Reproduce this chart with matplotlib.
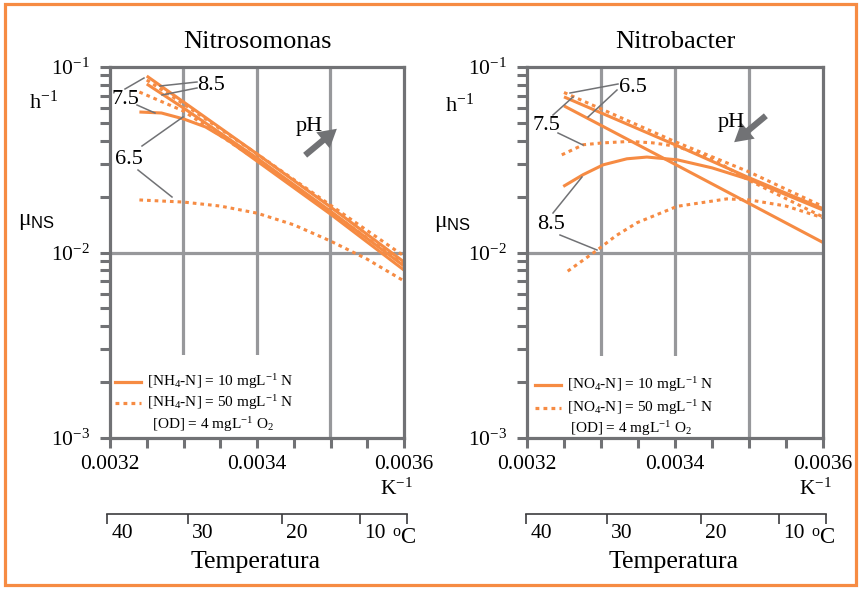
import matplotlib
matplotlib.use("Agg")
import numpy as np
import matplotlib.pyplot as plt
from matplotlib.lines import Line2D
from matplotlib.patches import Rectangle, FancyArrowPatch
from matplotlib.ticker import LogLocator, LogFormatterMathtext, NullFormatter

plt.rcParams['font.family'] = ['Liberation Serif', 'DejaVu Serif']
plt.rcParams['mathtext.fontset'] = 'custom'
plt.rcParams['mathtext.rm'] = 'Liberation Serif'
plt.rcParams['mathtext.it'] = 'Liberation Serif:italic'
plt.rcParams['mathtext.sf'] = 'Liberation Sans'

# ---------------- data (x in K^-1, mu in h^-1) ----------------
titles = ["Nitrosomonas", "Nitrobacter"]
xtick_vals = [0.0032, 0.0034, 0.0036]
xtick_labels = ["0.0032", "0.0034", "0.0036"]
temp_labels = ["40", "30", "20", "10"]
temp_pos = [0.0032, 0.003308, 0.003433, 0.003537]   # K^-1 positions drawn on the °C scale

# Nitrosomonas
ns_s85_x = [0.00325, 0.0033, 0.0034, 0.0035, 0.0036]
ns_s85 = [0.0894, 0.0648, 0.0340, 0.0176, 0.00889]
ns_d85_x = [0.00325, 0.0033, 0.0034, 0.0035, 0.0036]
ns_d85 = [0.0851, 0.0632, 0.0340, 0.0180, 0.00957]
ns_s75_x = [0.00325, 0.0033, 0.0034, 0.0035, 0.0036]
ns_s75 = [0.0810, 0.0601, 0.0323, 0.0167, 0.00846]
ns_d75_x = [0.00324, 0.0033, 0.0034, 0.0035, 0.0036]
ns_d75 = [0.0733, 0.0579, 0.0315, 0.0165, 0.00867]
ns_s65_x = [0.00324, 0.00327, 0.0033, 0.00333, 0.00336, 0.0034, 0.0035, 0.0036]
ns_s65 = [0.0572, 0.0565, 0.0525, 0.0475, 0.0404, 0.0311, 0.0161, 0.00804]
ns_d65_x = [0.00324, 0.0033, 0.00335, 0.0034, 0.00345, 0.0035, 0.00355, 0.0036]
ns_d65 = [0.0192, 0.0187, 0.0178, 0.0163, 0.0141, 0.01153, 0.0092, 0.00702]

# Nitrobacter
nb_s65_x = [0.00325, 0.0034, 0.0036]
nb_s65 = [0.0617, 0.0299, 0.01132]
nb_d65_x = [0.00325, 0.0034, 0.0035, 0.0036]
nb_d65 = [0.0729, 0.0396, 0.0272, 0.0177]
nb_s75_x = [0.00325, 0.0034, 0.0035, 0.0036]
nb_s75 = [0.0690, 0.0381, 0.0253, 0.01724]
nb_d75_x = [0.003247, 0.003276, 0.003303, 0.003339, 0.00337, 0.003403, 0.00345, 0.0035, 0.003599]
nb_d75 = [0.0336, 0.0381, 0.0390, 0.0397, 0.0390, 0.0373, 0.0320, 0.0245, 0.01561]
nb_s85_x = [0.003249, 0.003276, 0.003303, 0.003335, 0.003362, 0.003403, 0.00345, 0.003501, 0.003599]
nb_s85 = [0.0227, 0.0263, 0.0297, 0.0320, 0.0327, 0.0316, 0.0286, 0.0247, 0.0170]
nb_d85_x = [0.003255, 0.003296, 0.00332, 0.003349, 0.003403, 0.00347, 0.003501, 0.00355, 0.003599]
nb_d85 = [0.00793, 0.01038, 0.0123, 0.01449, 0.01774, 0.01945, 0.0192, 0.0178, 0.01543]

ns_legend = [r'[NH$_4$-N] = 10 mgL$^{-1}$ N', r'[NH$_4$-N] = 50 mgL$^{-1}$ N',
             r'[OD] = 4 mgL$^{-1}$ O$_2$']
nb_legend = [r'[NO$_4$-N] = 10 mgL$^{-1}$ N', r'[NO$_4$-N] = 50 mgL$^{-1}$ N',
             r'[OD] = 4 mgL$^{-1}$ O$_2$']

# ---------------- style ----------------
ORANGE = '#F68B43'
GRAY = '#717275'
GRID = '#97989b'
DARK = '#3c3c3e'
DOT = (0, (1.2, 1.3))
W, H = 860, 589
TICKFS = 15.5

fig = plt.figure(figsize=(W / 100, H / 100), dpi=100)
fig.patch.set_facecolor('white')


def F(px, py):
    return (px / W, 1 - py / H)


def ftext(px, py, s, **kw):
    kw.setdefault('ha', 'center')
    kw.setdefault('va', 'center')
    fig.text(px / W, 1 - py / H, s, **kw)


def leader(p1, p2):
    fig.add_artist(Line2D([p1[0] / W, p2[0] / W], [1 - p1[1] / H, 1 - p2[1] / H],
                          transform=fig.transFigure, color=GRAY, lw=1.1))


def make_axes(L, T, R, B):
    ax = fig.add_axes([L / W, 1 - B / H, (R - L) / W, (B - T) / H])
    ax.set_yscale('log')
    ax.set_xlim(0.0032, 0.0036)
    ax.set_ylim(1e-3, 1e-1)
    for s in ax.spines.values():
        s.set_color(GRAY)
        s.set_linewidth(2.3)
    ax.set_xticks(xtick_vals, labels=xtick_labels)
    ax.set_xticks(np.arange(0.0032, 0.003601, 0.00005), minor=True)
    ax.yaxis.set_major_locator(LogLocator(base=10, numticks=5))
    ax.yaxis.set_major_formatter(LogFormatterMathtext())
    ax.yaxis.set_minor_locator(LogLocator(base=10, subs=np.arange(2, 10), numticks=20))
    ax.yaxis.set_minor_formatter(NullFormatter())
    ax.tick_params(which='both', direction='out', length=7.5, width=2.2, color=GRAY,
                   labelsize=TICKFS)
    ax.tick_params(axis='y', pad=7)
    ax.tick_params(axis='x', pad=5)
    for xv in [0.0033, 0.0034, 0.0035]:
        ax.axvline(xv, color=GRID, lw=2.3, zorder=0.5)
    ax.axhline(0.01, color=GRID, lw=2.3, zorder=0.5)
    return ax


def temp_axis(L, R, y, xcenter):
    a2 = fig.add_axes([L / W, 1 - y / H, (R - L) / W, 1e-4])
    a2.set_xlim(0.0032, 0.0036)
    a2.patch.set_visible(False)
    for k in ['top', 'left', 'right']:
        a2.spines[k].set_visible(False)
    a2.spines['bottom'].set_color(DARK)
    a2.spines['bottom'].set_linewidth(1.2)
    a2.set_yticks([])
    a2.set_xticks(temp_pos + [0.0036])
    a2.tick_params(axis='x', direction='out', length=7, width=1.2, color=DARK,
                   labelbottom=False)
    for pos, lbl in zip(temp_pos, temp_labels):
        a2.annotate(lbl, xy=(pos, 0), xycoords=('data', 'axes fraction'),
                    xytext=(3.0, -7.0), textcoords='offset points',
                    ha='left', va='top', fontsize=TICKFS)
    ftext(xcenter, 562, 'Temperatura', fontsize=18.5)


def legend_block(L, ycols, labels, od_center):
    for (y, lbl, ls) in zip(ycols[:2], labels[:2], ['-', DOT]):
        fig.add_artist(Line2D([L / W, (L + 26) / W], [1 - y / H, 1 - y / H],
                              transform=fig.transFigure, color=ORANGE, lw=2.3, ls=ls))
        ftext(L + 32, y, lbl, ha='left', fontsize=11)
    ftext(od_center, ycols[2], labels[2], fontsize=11)


# ================= Left panel: Nitrosomonas =================
axL = make_axes(110, 67, 404, 438)
axL.add_patch(Rectangle((0, 0), 0.64, (438 - 355) / (438 - 67), transform=axL.transAxes,
                        facecolor='white', edgecolor='none', zorder=0.8))
for x, y, ls in [(ns_s85_x, ns_s85, '-'), (ns_d85_x, ns_d85, DOT),
                 (ns_s75_x, ns_s75, '-'), (ns_d75_x, ns_d75, DOT),
                 (ns_s65_x, ns_s65, '-'), (ns_d65_x, ns_d65, DOT)]:
    axL.plot(x, y, color=ORANGE, lw=2.2, ls=ls, zorder=2, solid_capstyle='butt')

legend_block(115, [382, 403, 425], ns_legend, 213)

# ================= Right panel: Nitrobacter =================
axR = make_axes(527, 67, 823, 438)
axR.add_patch(Rectangle((0, 0), 0.63, (438 - 356) / (438 - 67), transform=axR.transAxes,
                        facecolor='white', edgecolor='none', zorder=0.8))
for x, y, ls in [(nb_s65_x, nb_s65, '-'), (nb_d65_x, nb_d65, DOT),
                 (nb_s75_x, nb_s75, '-'), (nb_d75_x, nb_d75, DOT),
                 (nb_s85_x, nb_s85, '-'), (nb_d85_x, nb_d85, DOT)]:
    axR.plot(x, y, color=ORANGE, lw=2.2, ls=ls, zorder=2, solid_capstyle='butt')

legend_block(535, [385, 408, 429], nb_legend, 631)

# ---------------- titles and axis labels ----------------
ftext(257, 42, titles[0], fontsize=19)
ftext(675, 42, titles[1], fontsize=19)
ftext(44, 102, r'h$^{-1}$', fontsize=16)
ftext(460, 105, r'h$^{-1}$', fontsize=16)
ftext(37, 222, r'μ$_{\mathsf{NS}}$', fontsize=17)
ftext(453, 224, r'μ$_{\mathsf{NS}}$', fontsize=17)
ftext(396, 489, r'K$^{-1}$', fontsize=TICKFS)
ftext(815, 489, r'K$^{-1}$', fontsize=TICKFS)

temp_axis(107, 407, 514, 256)
temp_axis(526, 826, 514, 674)
ftext(392, 538, r'$^{\mathrm{o}}$C', ha='left', fontsize=16.5)
ftext(811, 538, r'$^{\mathrm{o}}$C', ha='left', fontsize=16.5)

# ---------------- pH annotations ----------------
PHFS = 16
# left
ftext(211, 86, '8.5', fontsize=PHFS)
leader((197, 82), (160, 86))
leader((197, 88), (162, 95))
ftext(125, 99, '7.5', fontsize=PHFS)
leader((125, 89), (144, 78))
leader((137, 105), (155, 113))
ftext(129, 160, '6.5', fontsize=PHFS)
leader((142, 146), (183, 117))
leader((138, 170), (172, 197))
ftext(309, 126, 'pH', fontsize=PHFS)
fig.add_artist(FancyArrowPatch(F(303, 157), F(339, 127), transform=fig.transFigure,
                               arrowstyle='simple,head_width=1.5,head_length=1.3,tail_width=0.45',
                               mutation_scale=10, color=GRAY, lw=0))
# right
ftext(633, 88, '6.5', fontsize=PHFS)
leader((618, 84), (570, 93))
leader((617, 90), (588, 117))
ftext(546, 126, '7.5', fontsize=PHFS)
leader((553, 115), (573, 97))
leader((558, 133), (583, 145))
ftext(551, 225, '8.5', fontsize=PHFS)
leader((553, 213), (582, 177))
leader((560, 235), (597, 250))
ftext(731, 122, 'pH', fontsize=PHFS)
fig.add_artist(FancyArrowPatch(F(768, 114), F(732, 144), transform=fig.transFigure,
                               arrowstyle='simple,head_width=1.5,head_length=1.3,tail_width=0.45',
                               mutation_scale=10, color=GRAY, lw=0))

# ---------------- orange frame ----------------
fig.add_artist(Rectangle((5 / W, 4 / H), 851 / W, 581 / H, transform=fig.transFigure,
                         fill=False, edgecolor=ORANGE, lw=2.3))

fig.savefig('out.png', dpi=100)
